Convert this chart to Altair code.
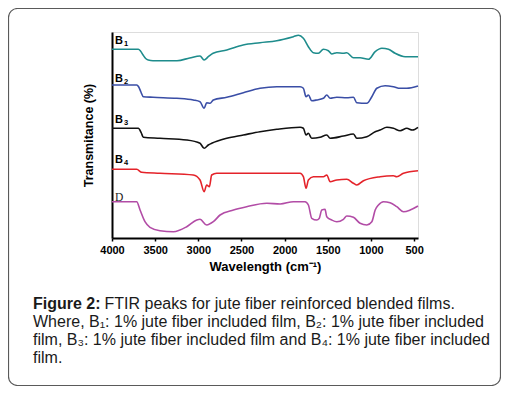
import altair as alt
import pandas as pd

# ---- data (wavenumber cm-1, transmittance offset a.u.) ----
series_names = ["B1", "B2", "B3", "B4", "D"]
series_colors = ["#1e8c8c", "#3a4ea6", "#111111", "#e4232a", "#b24ca6"]

wn_B1 = [4000, 3695, 3670, 3640, 3610, 3580, 3525, 3400, 3247, 3100, 2980, 2933, 2884, 2829, 2670, 2481,
         2285, 2091, 1898, 1840, 1783, 1725, 1667, 1609, 1551, 1493, 1454, 1396, 1319, 1280,
         1203, 1126, 1029, 951, 874, 797, 720, 604, 455]
t_B1 = [188.7, 188.7, 187, 183, 179.5, 178, 177.3, 177.3, 177.3, 180, 182, 178, 181.3, 184.7, 188, 193,
        195.3, 197.3, 201.3, 202.7, 199.7, 191.3, 185.3, 184.7, 188.7, 187.3, 184, 185.3, 184.7, 185.3,
        180.3, 180.3, 178.7, 186.3, 189.7, 188.7, 184.7, 181.3, 181.3]

wn_B2 = [4000, 3714, 3690, 3665, 3637, 3525, 3250, 3058, 2980, 2933, 2903, 2864, 2826, 2670, 2478, 2285,
         2091, 1821, 1783, 1752, 1725, 1686, 1628, 1551, 1512, 1473, 1396, 1280, 1203, 1164,
         1048, 990, 932, 836, 740, 662, 585, 455]
t_B2 = [153, 153, 151, 146, 141.3, 140.7, 139.7, 138, 136.3, 129.7, 135.3, 134.7, 138, 140.7, 145.3, 149.7,
        151.3, 151.3, 149.7, 141.3, 143, 137.3, 138, 139.7, 143, 139.7, 140.7, 140.3, 140.7, 135.3,
        134.7, 141.3, 149.7, 152.3, 151.3, 149.7, 149.7, 152]

wn_B3 = [4000, 3695, 3660, 3637, 3444, 3134, 2980, 2933, 2884, 2845, 2670, 2478, 2285, 2091,
         1821, 1783, 1752, 1725, 1686, 1590, 1512, 1473, 1319, 1203, 1164, 1048, 951, 894,
         816, 740, 662, 585, 520, 455]
t_B3 = [109.7, 109.7, 105, 100.7, 99.7, 98, 94.7, 89.7, 93, 94.7, 99.7, 103, 106.3, 108.7,
        110.7, 109.7, 103, 104.7, 99.7, 100.7, 103, 99.7, 102, 104, 99.7, 101.3, 106.3, 108,
        110.7, 109.7, 107.3, 109.7, 108, 110.7]

wn_B4 = [4000, 3714, 3656, 3444, 3058, 2980, 2933, 2903, 2872, 2845, 2787, 2285, 1821, 1783,
         1752, 1725, 1667, 1551, 1512, 1473, 1396, 1280, 1203, 1164, 1087, 894, 740, 701, 623, 455]
t_B4 = [68.7, 68.7, 65.7, 64.7, 63, 58, 46.3, 53, 51.3, 63, 64.7, 64.7, 64.7, 61.3,
        49.7, 58, 61.3, 61.3, 63, 56.3, 58, 58.7, 54.7, 53, 57.3, 61.3, 62.3, 61.3, 64.7, 67.3]

wn_D = [4000, 3714, 3675, 3618, 3560, 3444, 3289, 3134, 3018, 2980, 2903, 2826, 2748, 2593,
        2440, 2206, 2052, 1898, 1764, 1725, 1686, 1628, 1600, 1570, 1532, 1512, 1454, 1396,
        1319, 1280, 1203, 1126, 1048, 990, 951, 913, 855, 778, 701, 623, 546, 455]
t_D = [36.3, 36.3, 28, 16.3, 10.7, 7.3, 6.3, 11.3, 18, 18.7, 13, 16.3, 23, 28,
       31.3, 34.7, 34, 36.3, 36.3, 33, 19.7, 18, 19.5, 28, 28.7, 21.3, 18, 16.3,
       18.7, 22, 20.7, 14.7, 13, 16.3, 28, 33, 36.3, 35.3, 31.3, 26.3, 28, 32]

label_main = ["B", "B", "B", "B", "D"]
label_sub = ["1", "2", "3", "4", ""]
label_wn = [3965, 3965, 3965, 3965, 3965]
label_t = [197, 159, 118.5, 78, 40]

x_tick_values = [4000, 3750, 3500, 3250, 3000, 2750, 2500, 2250, 2000, 1750, 1500, 1250, 1000, 750, 500]

caption_bold = "Figure 2:"
caption_lines = [
    "FTIR peaks for jute fiber reinforced blended films.",
    "Where, B\u2081: 1% jute fiber included film, B\u2082: 1% jute fiber included",
    "film, B\u2083: 1% jute fiber included film and B\u2084: 1% jute fiber included",
    "film.",
]

# ---- build tables ----
rows = []
for name, wns, ts in zip(series_names, [wn_B1, wn_B2, wn_B3, wn_B4, wn_D],
                         [t_B1, t_B2, t_B3, t_B4, t_D]):
    for w, v in zip(wns, ts):
        rows.append({"series": name, "wn": w, "t": v})
df = pd.DataFrame(rows)

lab = pd.DataFrame({"main": label_main, "sub": label_sub, "wn": label_wn, "t": label_t})

FONT = "Liberation Sans"
x_scale = alt.Scale(domain=[4000, 455], nice=False, zero=False)
y_scale = alt.Scale(domain=[0, 206], nice=False, zero=False)

lines = alt.Chart(df).mark_line(strokeWidth=1.6, interpolate="monotone").encode(
    x=alt.X("wn:Q", scale=x_scale,
            axis=alt.Axis(title="Wavelength (cm\u207b\u00b9)", values=x_tick_values, format="d",
                          labelExpr="datum.value % 500 == 0 ? datum.label : ''",
                          labelFlush=False, labelOverlap=False, grid=False,
                          tickSize=3, tickColor="black", tickWidth=1.5,
                          labelPadding=3, titlePadding=5,
                          labelFontSize=11, labelFontWeight="bold", labelFont=FONT, labelColor="black",
                          titleFontSize=13, titleFontWeight="bold", titleFont=FONT, titleColor="black",
                          domainColor="black", domainWidth=2)),
    y=alt.Y("t:Q", scale=y_scale,
            axis=alt.Axis(title="Transmitance (%)", labels=False, ticks=False, grid=False,
                          titlePadding=17, titleFontSize=12.5, titleFontWeight="bold",
                          titleFont=FONT, titleColor="black",
                          domainColor="black", domainWidth=2)),
    color=alt.Color("series:N", scale=alt.Scale(domain=series_names, range=series_colors), legend=None),
    order=alt.Order("wn:Q", sort="descending"),
)

lab_b = alt.Chart(lab[lab["main"] == "B"]).mark_text(
    align="left", baseline="middle", font=FONT, fontWeight="bold", fontSize=11, color="black"
).encode(x=alt.X("wn:Q", scale=x_scale), y=alt.Y("t:Q", scale=y_scale), text="main:N")

lab_sub = alt.Chart(lab[lab["main"] == "B"]).mark_text(
    align="left", baseline="middle", font=FONT, fontWeight="bold", fontSize=7.5, color="black",
    dx=9, dy=3
).encode(x=alt.X("wn:Q", scale=x_scale), y=alt.Y("t:Q", scale=y_scale), text="sub:N")

lab_d = alt.Chart(lab[lab["main"] == "D"]).mark_text(
    align="left", baseline="middle", font="Liberation Serif", fontSize=11.5, color="#222"
).encode(x=alt.X("wn:Q", scale=x_scale), y=alt.Y("t:Q", scale=y_scale), text="main:N")

one = pd.DataFrame({"k": [0]})
box = alt.Chart(one).mark_rect(fill="transparent", stroke="#5a5a5a", strokeWidth=1.2, cornerRadius=9).encode(
    x=alt.value(-103.5), x2=alt.value(388.5), y=alt.value(-23.5), y2=alt.value(353.5)
)

cap_size = 16
cap_x = -79
cap_base = [277, 295, 313, 331]
cap_layers = [
    alt.Chart(one).mark_text(align="left", baseline="alphabetic", font=FONT, fontSize=cap_size,
                             fontWeight="bold", color="#1a1a1a", text=caption_bold).encode(
        x=alt.value(cap_x), y=alt.value(cap_base[0]))
]
for i, line in enumerate(caption_lines):
    xpos = cap_x + (71.5 if i == 0 else 0)
    cap_layers.append(
        alt.Chart(one).mark_text(align="left", baseline="alphabetic", font=FONT, fontSize=cap_size,
                                 color="#1a1a1a", text=line).encode(
            x=alt.value(xpos), y=alt.value(cap_base[i]))
    )

chart = alt.layer(box, lines, lab_b, lab_sub, lab_d, *cap_layers).properties(
    width=306, height=206,
    padding={"left": 104, "top": 24, "right": 83, "bottom": 148},
    autosize=alt.AutoSizeParams(type="none"),
).configure_view(stroke="black", strokeWidth=2).configure(background="white")

chart.save("out.html", embed_options={"renderer": "svg", "actions": False})
